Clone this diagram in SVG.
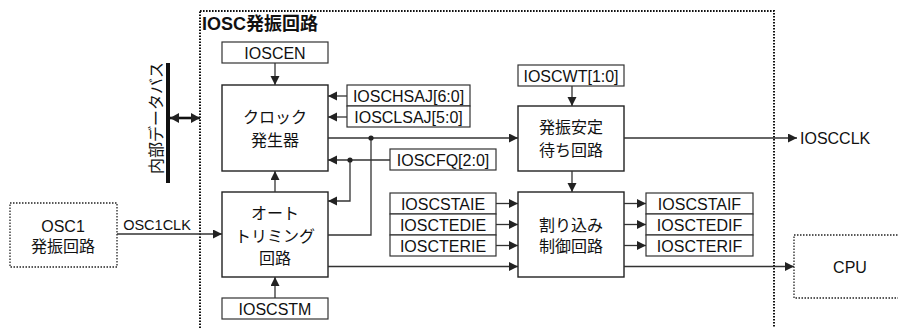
<svg xmlns="http://www.w3.org/2000/svg" width="898" height="328" viewBox="0 0 898 328">
<style>
text{font-family:"Liberation Sans","Noto Sans CJK JP",sans-serif;font-size:16px;fill:#111;text-anchor:middle}
.box{fill:#fff;stroke:#222;stroke-width:1.4}
.reg{fill:#fff;stroke:#333;stroke-width:1.2}
.dot{fill:none;stroke:#222;stroke-width:1.3;stroke-dasharray:1.5 1.5}
.frame{fill:none;stroke:#111;stroke-width:2;stroke-dasharray:1.6 1.4}
.ln{fill:none;stroke:#333;stroke-width:1.3}
.jn{fill:#222}
</style>
<defs>
<marker id="ah" markerUnits="userSpaceOnUse" markerWidth="10" markerHeight="10" refX="9" refY="4.5" orient="auto"><path d="M0,0 L9,4.5 L0,9 z" fill="#222"/></marker>
<marker id="bh" markerUnits="userSpaceOnUse" markerWidth="10" markerHeight="12" refX="9" refY="5" orient="auto-start-reverse"><path d="M0,0 L9,5 L0,10 z" fill="#222"/></marker>
</defs>

<g id="frame">
<rect class="frame" x="200" y="11" width="574" height="330"/>
<text x="202" y="30" style="font-size:18px;font-weight:bold;text-anchor:start">IOSC発振回路</text>
</g>

<g id="bus">
<line x1="168" y1="63" x2="168" y2="183" stroke="#111" stroke-width="4"/>
<text transform="translate(162,118) rotate(-90)" style="font-size:16px">内部データバス</text>
</g>

<g id="osc1">
<rect class="dot" x="10" y="203" width="107" height="64"/>
<text x="63" y="232">OSC1</text>
<text x="63" y="252">発振回路</text>
</g>

<g id="cpu">
<rect class="dot" x="794" y="235" width="120" height="63"/>
<text x="850" y="273">CPU</text>
</g>

<g id="ioscen"><rect class="reg" x="222" y="42" width="106" height="21"/><text x="275" y="58.5">IOSCEN</text></g>
<g id="clockgen"><rect class="box" x="222" y="85" width="106" height="86"/><text x="275" y="123">クロック</text><text x="275" y="146">発生器</text></g>
<g id="ioschsaj"><rect class="reg" x="347" y="85" width="123" height="21"/><text x="408.5" y="101.5">IOSCHSAJ[6:0]</text></g>
<g id="iosclsaj"><rect class="reg" x="347" y="106" width="123" height="21"/><text x="408.5" y="122.5">IOSCLSAJ[5:0]</text></g>
<g id="ioscfq"><rect class="reg" x="390" y="149" width="106" height="21"/><text x="443" y="165.5">IOSCFQ[2:0]</text></g>
<g id="autotrim"><rect class="box" x="222" y="192" width="106" height="85"/><text x="275" y="219">オート</text><text x="275" y="241.5">トリミング</text><text x="275" y="264">回路</text></g>
<g id="ioscstm"><rect class="reg" x="222" y="298" width="106" height="21"/><text x="275" y="314.5">IOSCSTM</text></g>
<g id="ioscwt"><rect class="reg" x="518" y="65" width="106" height="21"/><text x="571" y="81.5">IOSCWT[1:0]</text></g>
<g id="waitcircuit"><rect class="box" x="518" y="106" width="106" height="65"/><text x="571" y="133">発振安定</text><text x="571" y="156">待ち回路</text></g>
<g id="intctrl"><rect class="box" x="518" y="192" width="106" height="85"/><text x="571" y="231">割り込み</text><text x="571" y="252">制御回路</text></g>
<g id="ioscstaie"><rect class="reg" x="390" y="193" width="106" height="21"/><text x="443" y="209.5">IOSCSTAIE</text></g>
<g id="ioscstedie"><rect class="reg" x="390" y="214" width="106" height="21"/><text x="443" y="230.5">IOSCTEDIE</text></g>
<g id="ioscterie"><rect class="reg" x="390" y="235" width="106" height="21"/><text x="443" y="251.5">IOSCTERIE</text></g>
<g id="ioscstaif"><rect class="reg" x="646" y="193" width="107" height="21"/><text x="699.5" y="209.5">IOSCSTAIF</text></g>
<g id="ioscstedif"><rect class="reg" x="646" y="214" width="107" height="21"/><text x="699.5" y="230.5">IOSCTEDIF</text></g>
<g id="ioscterif"><rect class="reg" x="646" y="235" width="107" height="21"/><text x="699.5" y="251.5">IOSCTERIF</text></g>

<g id="connectors">
<line class="ln" x1="275" y1="63" x2="275" y2="85" marker-end="url(#ah)"/>
<line class="ln" x1="347" y1="96" x2="328" y2="96" marker-end="url(#ah)"/>
<line class="ln" x1="347" y1="117" x2="328" y2="117" marker-end="url(#ah)"/>
<line class="ln" x1="328" y1="138" x2="518" y2="138" marker-end="url(#ah)"/>
<polyline class="ln" points="328,235 371,235 371,138"/>
<circle class="jn" cx="371" cy="138" r="2.6"/>
<line class="ln" x1="390" y1="160" x2="328" y2="160" marker-end="url(#ah)"/>
<polyline class="ln" points="350,160 350,201 328,201" marker-end="url(#ah)"/>
<circle class="jn" cx="350" cy="160" r="2.6"/>
<line class="ln" x1="275" y1="192" x2="275" y2="171" marker-end="url(#ah)"/>
<line class="ln" x1="275" y1="298" x2="275" y2="277" marker-end="url(#ah)"/>
<line class="ln" x1="117" y1="234" x2="222" y2="234" marker-end="url(#ah)"/>
<text x="157" y="230" style="font-size:14.5px">OSC1CLK</text>
<line x1="170" y1="118" x2="200" y2="118" stroke="#111" stroke-width="2.6" marker-start="url(#bh)" marker-end="url(#bh)"/>
<line class="ln" x1="572" y1="86" x2="572" y2="106" marker-end="url(#ah)"/>
<line class="ln" x1="624" y1="138" x2="797" y2="138" marker-end="url(#ah)"/>
<text x="800" y="144" style="text-anchor:start">IOSCCLK</text>
<line class="ln" x1="572" y1="171" x2="572" y2="192" marker-end="url(#ah)"/>
<line class="ln" x1="496" y1="203.5" x2="518" y2="203.5" marker-end="url(#ah)"/>
<line class="ln" x1="496" y1="224.5" x2="518" y2="224.5" marker-end="url(#ah)"/>
<line class="ln" x1="496" y1="245.5" x2="518" y2="245.5" marker-end="url(#ah)"/>
<line class="ln" x1="328" y1="266.5" x2="518" y2="266.5" marker-end="url(#ah)"/>
<line class="ln" x1="624" y1="203.5" x2="646" y2="203.5" marker-end="url(#ah)"/>
<line class="ln" x1="624" y1="224.5" x2="646" y2="224.5" marker-end="url(#ah)"/>
<line class="ln" x1="624" y1="245.5" x2="646" y2="245.5" marker-end="url(#ah)"/>
<line class="ln" x1="624" y1="266.5" x2="794" y2="266.5" marker-end="url(#ah)"/>
</g>
</svg>
